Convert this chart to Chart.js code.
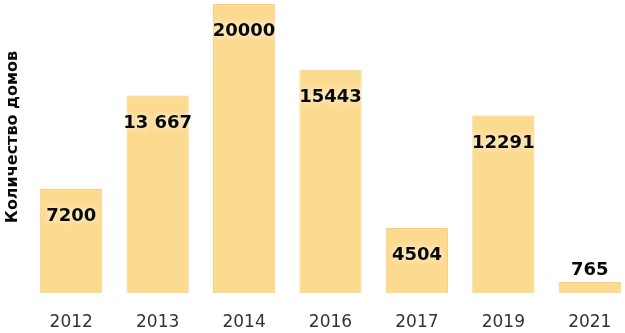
<!DOCTYPE html>
<html>
<head>
<meta charset="utf-8">
<script src="https://cdn.jsdelivr.net/npm/chart.js@4/dist/chart.umd.min.js"></script>
<style>
  html, body { margin: 0; padding: 0; background: #fff; overflow: hidden; }
  #wrap { position: relative; width: 640px; height: 333px; }
</style>
</head>
<body>
<div id="wrap"><canvas id="chart"></canvas></div>
<script>
const years = ["2012", "2013", "2014", "2016", "2017", "2019", "2021"];
const houses = [7200, 13667, 20000, 15443, 4504, 12291, 765];
const houseLabels = ["7200", "13 667", "20000", "15443", "4504", "12291", "765"];
const yTitle = "Количество домов";

const ctx = document.getElementById("chart").getContext("2d");

// value labels inside the bars (or above, when the bar is too short)
const valueLabels = {
  id: "valueLabels",
  afterDatasetsDraw(chart) {
    const { ctx } = chart;
    const bars = chart.getDatasetMeta(0).data;
    ctx.save();
    ctx.font = "bold 18px 'DejaVu Sans'";
    ctx.textAlign = "center";
    ctx.textBaseline = "middle";
    ctx.fillStyle = "#0a0a0a";
    ctx.shadowColor = "rgba(255,255,255,0.95)";
    ctx.shadowBlur = 6;
    bars.forEach((bar, i) => {
      const h = bar.base - bar.y;
      const y = h > 40 ? bar.y + 27.5 : bar.y - 12;
      ctx.fillText(houseLabels[i], bar.x, y);
    });
    ctx.restore();
  },
};

// rotated axis title, drawn by hand so it sits where the original has it
const sideTitle = {
  id: "sideTitle",
  afterDraw(chart) {
    const { ctx } = chart;
    ctx.save();
    ctx.translate(13, 137);
    ctx.rotate(-Math.PI / 2);
    ctx.font = "bold 16px 'DejaVu Sans'";
    ctx.textAlign = "center";
    ctx.textBaseline = "middle";
    ctx.fillStyle = "#0a0a0a";
    ctx.fillText(yTitle, 0, 0);
    ctx.restore();
  },
};

new Chart(ctx, {
  type: "bar",
  data: {
    labels: years,
    datasets: [
      {
        data: houses,
        backgroundColor: "#fcda90",
        borderColor: "#f6cf7c",
        borderWidth: 1,
        categoryPercentage: 1,
        barPercentage: 0.72,
      },
    ],
  },
  options: {
    responsive: true,
    maintainAspectRatio: false,
    animation: false,
    layout: { padding: { top: 4, right: 7, bottom: 0, left: 0 } },
    plugins: {
      legend: { display: false },
      tooltip: { enabled: false },
    },
    scales: {
      x: {
        grid: { display: false, drawTicks: false },
        border: { display: false },
        ticks: {
          color: "#333",
          font: { family: "'DejaVu Sans'", size: 17 },
          padding: 19,
        },
        afterFit(scale) { scale.height = 40; },
      },
      y: {
        min: 0,
        max: 20000,
        grid: { display: false },
        border: { display: false },
        ticks: { display: false },
        afterFit(scale) { scale.width = 28; },
      },
    },
  },
  plugins: [valueLabels, sideTitle],
});
</script>
</body>
</html>
